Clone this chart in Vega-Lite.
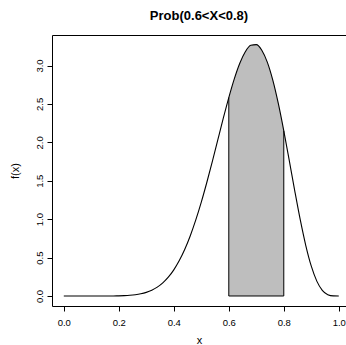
{
  "$schema": "https://vega.github.io/schema/vega-lite/v6.json",
  "autosize": "none",
  "width": 294,
  "height": 271,
  "padding": {"left": 52, "top": 35, "right": 0, "bottom": 39},
  "background": "white",
  "config": {
    "view": {"stroke": null},
    "font": "Liberation Sans",
    "axis": {
      "grid": false,
      "domainColor": "black",
      "domainWidth": 1,
      "tickColor": "black",
      "tickSize": 5,
      "labelColor": "black",
      "labelFont": "Liberation Sans",
      "labelFontSize": 9.5,
      "titleFont": "Liberation Sans",
      "titleFontSize": 11,
      "titleFontWeight": "normal",
      "titleColor": "black"
    }
  },
  "title": {
    "text": "Prob(0.6<X<0.8)",
    "font": "Liberation Sans",
    "fontSize": 13,
    "fontWeight": "bold",
    "color": "black",
    "anchor": "middle",
    "baseline": "alphabetic",
    "offset": 2
  },
  "datasets": {
    "curve": [
      {"x": 0.0, "f": 0},
      {"x": 0.02, "f": 0},
      {"x": 0.04, "f": 0},
      {"x": 0.06, "f": 0},
      {"x": 0.08, "f": 0},
      {"x": 0.1, "f": 0.0000066},
      {"x": 0.12, "f": 0.000031},
      {"x": 0.14, "f": 0.000113},
      {"x": 0.16, "f": 0.000342},
      {"x": 0.18, "f": 0.000898},
      {"x": 0.2, "f": 0.0021},
      {"x": 0.22, "f": 0.00447},
      {"x": 0.24, "f": 0.00882},
      {"x": 0.26, "f": 0.0163},
      {"x": 0.28, "f": 0.02846},
      {"x": 0.3, "f": 0.0473},
      {"x": 0.32, "f": 0.0753},
      {"x": 0.34, "f": 0.1153},
      {"x": 0.36, "f": 0.1706},
      {"x": 0.38, "f": 0.2444},
      {"x": 0.4, "f": 0.3401},
      {"x": 0.42, "f": 0.4607},
      {"x": 0.44, "f": 0.6085},
      {"x": 0.46, "f": 0.7849},
      {"x": 0.48, "f": 0.99},
      {"x": 0.5, "f": 1.2219},
      {"x": 0.52, "f": 1.4772},
      {"x": 0.54, "f": 1.7499},
      {"x": 0.56, "f": 2.0321},
      {"x": 0.58, "f": 2.3136},
      {"x": 0.6, "f": 2.5825},
      {"x": 0.62, "f": 2.8254},
      {"x": 0.64, "f": 3.0287},
      {"x": 0.66, "f": 3.1786},
      {"x": 0.68, "f": 3.263},
      {"x": 0.7, "f": 3.2719},
      {"x": 0.72, "f": 3.1993},
      {"x": 0.74, "f": 3.0438},
      {"x": 0.76, "f": 2.8094},
      {"x": 0.78, "f": 2.506},
      {"x": 0.8, "f": 2.1496},
      {"x": 0.82, "f": 1.7614},
      {"x": 0.84, "f": 1.3659},
      {"x": 0.86, "f": 0.9895},
      {"x": 0.88, "f": 0.6569},
      {"x": 0.9, "f": 0.3878},
      {"x": 0.92, "f": 0.1936},
      {"x": 0.94, "f": 0.0743},
      {"x": 0.96, "f": 0.0177},
      {"x": 0.98, "f": 0.0013},
      {"x": 1.0, "f": 0}
    ],
    "edges": [
      {"xa": 0.6, "xb": 0.6, "ya": 0, "yb": 2.5825},
      {"xa": 0.8, "xb": 0.8, "ya": 0, "yb": 2.1496},
      {"xa": 0.6, "xb": 0.8, "ya": 0, "yb": 0}
    ]
  },
  "resolve": {"axis": {"x": "independent", "y": "independent"}},
  "layer": [
    {
      "data": {"name": "curve"},
      "transform": [{"filter": "datum.x >= 0.6 && datum.x <= 0.8"}],
      "mark": {"type": "area", "color": "#BEBEBE", "interpolate": "monotone", "opacity": 1},
      "encoding": {
        "x": {
          "field": "x", "type": "quantitative",
          "scale": {"domain": [-0.0429, 1.0262], "nice": false, "zero": false},
          "axis": {"orient": "bottom", "values": [0, 0.2, 0.4, 0.6, 0.8, 1.0], "format": ".1f", "labelPadding": 6, "titlePadding": 8, "title": "x", "labelFlush": false}
        },
        "y": {
          "field": "f", "type": "quantitative",
          "scale": {"domain": [-0.1302, 3.397], "nice": false, "zero": false},
          "axis": {"orient": "left", "values": [0, 0.5, 1, 1.5, 2, 2.5, 3], "format": ".1f", "labelAngle": -90, "labelAlign": "center", "labelBaseline": "bottom", "labelPadding": 3, "titlePadding": 14, "title": "f(x)", "labelFlush": false}
        }
      }
    },
    {
      "data": {"name": "edges"},
      "mark": {"type": "rule", "color": "black", "strokeWidth": 1},
      "encoding": {
        "x": {
          "field": "xa", "type": "quantitative",
          "scale": {"domain": [-0.0429, 1.0262], "nice": false, "zero": false},
          "axis": {"orient": "top", "labels": false, "ticks": false, "title": null, "domain": true}
        },
        "x2": {"field": "xb"},
        "y": {
          "field": "ya", "type": "quantitative",
          "scale": {"domain": [-0.1302, 3.397], "nice": false, "zero": false},
          "axis": null
        },
        "y2": {"field": "yb"}
      }
    },
    {
      "data": {"name": "curve"},
      "mark": {"type": "line", "color": "black", "strokeWidth": 1.1, "interpolate": "monotone"},
      "encoding": {
        "x": {"field": "x", "type": "quantitative", "scale": {"domain": [-0.0429, 1.0262], "nice": false, "zero": false}, "axis": null},
        "y": {"field": "f", "type": "quantitative", "scale": {"domain": [-0.1302, 3.397], "nice": false, "zero": false}, "axis": null}
      }
    }
  ]
}
